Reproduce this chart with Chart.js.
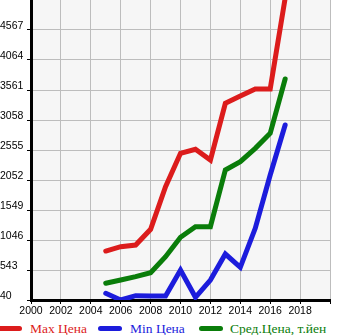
<!DOCTYPE html>
<html>
<head>
<meta charset="utf-8">
<script src="https://cdn.jsdelivr.net/npm/chart.js@4"></script>
<style>
  body { margin: 0; background: #fff; }
  #wrap { position: relative; width: 345px; height: 335px; overflow: hidden; }
  #box { position: absolute; left: 0; top: 0; width: 345px; height: 318px; }
  .leg { position: absolute; top: 0; font-family: 'Liberation Serif', serif; font-size: 13.5px; white-space: nowrap; }
  .leg i { position: absolute; top: 326px; width: 24px; height: 5px; border-radius: 3px; }
  .leg span { position: absolute; top: 320.5px; line-height: 15px; }
  .leg:nth-child(2) i { left: -2px; }   .leg:nth-child(2) span { left: 30px; }
  .leg:nth-child(3) i { left: 98px; }   .leg:nth-child(3) span { left: 130px; }
  .leg:nth-child(4) i { left: 199px; }  .leg:nth-child(4) span { left: 230px; }
</style>
</head>
<body>
<div id="wrap">
  <div id="box"><canvas id="chart"></canvas></div>
</div>
<script>
const years = [2005, 2006, 2007, 2008, 2009, 2010, 2011, 2012, 2013, 2014, 2015, 2016, 2017];
const maxPrice = [861, 934, 962, 1225, 1940, 2500, 2567, 2387, 3338, 3460, 3578, 3578, 5100];
const minPrice = [152, 40, 112, 107, 107, 543, 85, 375, 811, 588, 1242, 2136, 2975];
const avgPrice = [320, 375, 431, 498, 766, 1091, 1269, 1269, 2220, 2359, 2583, 2835, 3746];
const xTicks = [2000, 2002, 2004, 2006, 2008, 2010, 2012, 2014, 2016, 2018, 2020];
const yTicks = [40, 543, 1046, 1549, 2052, 2555, 3058, 3561, 4064, 4567];
const seriesNames = ['Max Цена', 'Min Цена', 'Сред.Цена, т.йен'];
const seriesColors = ['#dc1c1c', '#1c1cdc', '#0a7d0a'];

const tickFont = { family: "'Liberation Sans', sans-serif", size: 10.5 };

// light grey plot area
const plotBg = {
  id: 'plotBg',
  beforeDraw(chart) {
    const a = chart.chartArea;
    chart.ctx.save();
    chart.ctx.fillStyle = '#f6f6f6';
    chart.ctx.fillRect(a.left, a.top, a.right - a.left, a.bottom - a.top);
    chart.ctx.restore();
  }
};

function pts(vals) {
  return years.map((y, i) => ({ x: y, y: vals[i] }));
}

const ctx = document.getElementById('chart').getContext('2d');
const myChart = new Chart(ctx, {
  type: 'line',
  data: {
    datasets: [maxPrice, minPrice, avgPrice].map((vals, i) => ({
      label: seriesNames[i],
      data: pts(vals),
      borderColor: seriesColors[i],
      backgroundColor: seriesColors[i]
    }))
  },
  options: {
    responsive: true,
    maintainAspectRatio: false,
    animation: false,
    layout: { padding: { left: 0, right: 15, top: 0, bottom: 0 } },
    plugins: { legend: { display: false }, tooltip: { enabled: false } },
    elements: {
      point: { radius: 0 },
      line: { borderWidth: 5, tension: 0, borderCapStyle: 'round', fill: false }
    },
    scales: {
      x: {
        type: 'linear', min: 2000, max: 2020,
        afterBuildTicks: s => { s.ticks = xTicks.map(v => ({ value: v })); },
        afterFit: s => { s.height = 18; s.paddingLeft = 0; s.paddingRight = 0; },
        grid: { color: '#bdbdbd', tickColor: '#000', tickLength: 4 },
        border: { color: '#000', width: 3 },
        ticks: {
          color: '#000', font: tickFont, padding: 1, maxRotation: 0, autoSkip: false,
          callback: v => v === 2020 ? '' : String(v)
        }
      },
      y: {
        min: 40, max: 5070,
        afterBuildTicks: s => { s.ticks = yTicks.map(v => ({ value: v })); },
        afterFit: s => { s.width = 31; s.paddingTop = 0; s.paddingBottom = 0; },
        grid: { color: '#bdbdbd', tickColor: '#000', tickLength: 4 },
        border: { color: '#000', width: 3 },
        ticks: {
          color: '#000', font: tickFont, padding: 3, crossAlign: 'far', labelOffset: -4,
          autoSkip: false, callback: v => String(v)
        }
      }
    }
  },
  plugins: [plotBg]
});

// legend below the chart
const wrap = document.getElementById('wrap');
seriesNames.forEach((name, i) => {
  const d = document.createElement('div');
  d.className = 'leg';
  d.innerHTML = '<i style="background:' + seriesColors[i] + '"></i><span style="color:' + seriesColors[i] + '">' + name + '</span>';
  wrap.appendChild(d);
});
</script>
</body>
</html>
